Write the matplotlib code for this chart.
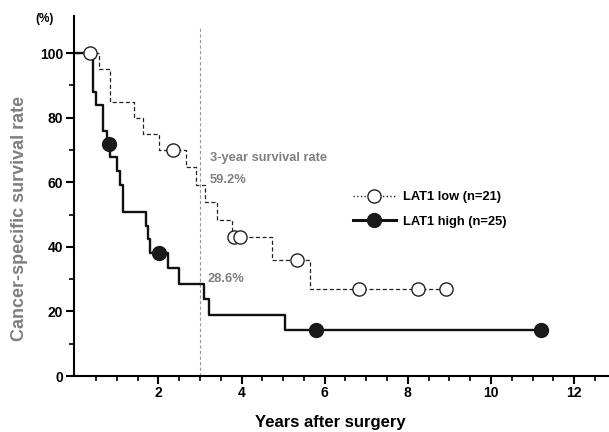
import matplotlib
matplotlib.use("Agg")
import matplotlib.pyplot as plt
from matplotlib.lines import Line2D

plt.rcParams['font.family'] = ['Liberation Sans', 'DejaVu Sans']
plt.rcParams['font.weight'] = 'bold'

# Kaplan-Meier steps (years, survival %)
low_t = [0, 0.58, 0.84, 1.42, 1.64, 2.02, 2.67, 2.90, 3.13, 3.42, 3.77, 4.73, 5.64]
low_s = [100, 95.0, 85.0, 80.0, 75.0, 70.0, 64.6, 59.2, 53.8, 48.4, 43.1, 35.9, 26.9]
low_end = 8.92
low_cens_t = [0.36, 2.34, 3.82, 3.97, 5.33, 6.82, 8.24, 8.92]
low_cens_s = [100, 70.0, 43.1, 43.1, 35.9, 26.9, 26.9, 26.9]

high_t = [0, 0.42, 0.51, 0.67, 0.76, 0.84, 1.00, 1.07, 1.14, 1.71, 1.76, 1.80, 2.22, 2.49, 3.09, 3.21, 5.04]
high_s = [100, 88, 84, 76, 72, 67.8, 63.5, 59.3, 50.8, 46.6, 42.3, 38.1, 33.3, 28.6, 23.8, 19.0, 14.3]
high_end = 11.2
high_cens_t = [0.82, 2.01, 5.80, 11.2]
high_cens_s = [72, 38.1, 14.3, 14.3]

labels = ['LAT1 low (n=21)', 'LAT1 high (n=25)']
x_ticks = [2, 4, 6, 8, 10, 12]
y_ticks = [0, 20, 40, 60, 80, 100]
year_mark = 3
rate_low = '59.2%'
rate_high = '28.6%'

grey = '#7f7f7f'

fig = plt.figure(figsize=(6.09, 4.32), dpi=100)
ax = fig.add_axes([73.5/609, 56/432, (609-73.5)/609, (416-56)/432])

# 3-year reference line
ax.vlines(year_mark, 0, 108, colors='#999999', linewidth=0.8, linestyles=(0, (3, 2)))

ax.step(low_t + [low_end], low_s + [low_s[-1]], where='post', color='#222222',
        linewidth=0.9, linestyle=(0, (3.3, 2)))
ax.step(high_t + [high_end], high_s + [high_s[-1]], where='post', color='#111111',
        linewidth=1.7)

# censored marks
ax.plot(low_cens_t, low_cens_s, 'o', markersize=9.5, markerfacecolor='white',
        markeredgecolor='#222222', markeredgewidth=1.0, linestyle='none', zorder=3)
ax.plot(high_cens_t, high_cens_s, 'o', markersize=10, markerfacecolor='#1a1a1a',
        markeredgecolor='#1a1a1a', linestyle='none', zorder=3)

ax.set_xlim(-0.042, 12.84)
ax.set_ylim(0, 111.5)
ax.spines['top'].set_visible(False)
ax.spines['right'].set_visible(False)
for s in ['left', 'bottom']:
    ax.spines[s].set_linewidth(1.5)

ax.set_xticks(x_ticks)
ax.set_xticks([v * 0.5 for v in range(1, 26)], minor=True)
ax.set_yticks(y_ticks)
ax.set_yticks([10, 30, 50, 70, 90], minor=True)
ax.tick_params(axis='both', which='major', length=5.8, width=1.5, labelsize=10, pad=1.5)
ax.tick_params(axis='both', which='minor', length=3.5, width=1.2)

ax.set_xlabel('Years after surgery', fontsize=12, fontweight='bold')
ax.xaxis.set_label_coords((330 - 73.5) / (609 - 73.5), -(422 - 376) / 360)
ax.xaxis.label.set_va('center')
ax.set_ylabel('Cancer-specific survival rate', fontsize=13, fontweight='bold', color=grey)
ax.yaxis.set_label_coords(-(73.5 - 20) / (609 - 73.5), (376 - 218) / 360)
ax.yaxis.label.set_va('center')
fig.text(45/609, 1 - 19/432, '(%)', fontsize=8.5, fontweight='bold', ha='center', va='center')

ax.text(3.23, 67.6, '3-year survival rate', fontsize=9.3, fontweight='bold', color=grey, va='center')
ax.text(3.23, 60.6, rate_low, fontsize=9.3, fontweight='bold', color=grey, va='center')
ax.text(3.17, 30.0, rate_high, fontsize=9.3, fontweight='bold', color=grey, va='center')

handles = [
    Line2D([], [], color='#222222', linewidth=1.0, linestyle=':', marker='o', markersize=9.5,
           markerfacecolor='white', markeredgecolor='#222222'),
    Line2D([], [], color='#111111', linewidth=2.2, marker='o', markersize=10,
           markerfacecolor='#1a1a1a', markeredgecolor='#1a1a1a'),
]
leg = ax.legend(handles, labels, loc='center left', frameon=False, fontsize=9.3,
                handlelength=3.3, handletextpad=0.6, labelspacing=0.95, borderpad=0,
                borderaxespad=0, bbox_to_anchor=(353/609, 1 - 209.5/432),
                bbox_transform=fig.transFigure)
for t in leg.get_texts():
    t.set_fontweight('bold')

fig.savefig('out.png', dpi=100)
